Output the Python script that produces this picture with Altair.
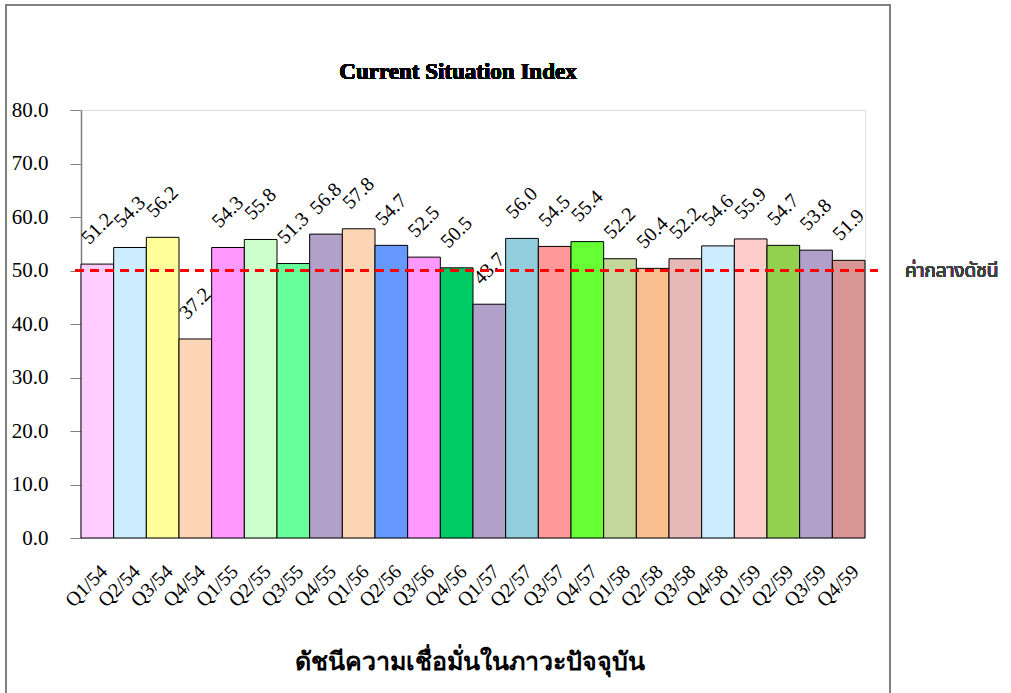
import altair as alt
import pandas as pd

quarters = ["Q1/54", "Q2/54", "Q3/54", "Q4/54", "Q1/55", "Q2/55", "Q3/55", "Q4/55",
            "Q1/56", "Q2/56", "Q3/56", "Q4/56", "Q1/57", "Q2/57", "Q3/57", "Q4/57",
            "Q1/58", "Q2/58", "Q3/58", "Q4/58", "Q1/59", "Q2/59", "Q3/59", "Q4/59"]
values = [51.2, 54.3, 56.2, 37.2, 54.3, 55.8, 51.3, 56.8,
          57.8, 54.7, 52.5, 50.5, 43.7, 56.0, 54.5, 55.4,
          52.2, 50.4, 52.2, 54.6, 55.9, 54.7, 53.8, 51.9]
colors = ["#FFCCFF", "#CCECFF", "#FFFF99", "#FCD5B5", "#FF99FF", "#CCFFCC", "#66FF99", "#B1A0C7",
          "#FCD5B5", "#6699FF", "#FF99FF", "#00CC66", "#B1A0C7", "#92CDDC", "#FF9999", "#66FF33",
          "#C4D79B", "#FABF8F", "#E6B8B7", "#CCECFF", "#FFCCCC", "#92D050", "#B1A0C7", "#DA9694"]
mid_value = 50
mid_label = "ค่ากลางดัชนี"
title_text = "Current Situation Index"
x_title = "ดัชนีความเชื่อมั่นในภาวะปัจจุบัน"

df = pd.DataFrame({"q": quarters, "v": values})

W, H = 784, 428
SERIF = "Liberation Serif"
THAI_SANS = "Noto Sans Thai, Loma, Garuda, Tlwg Typo, Noto Sans, sans-serif"

x_enc = alt.X("q:N", sort=None,
              scale=alt.Scale(paddingInner=0, paddingOuter=0),
              axis=alt.Axis(title=x_title, labelAngle=315, labelFont=SERIF, labelFontSize=20,
                            labelColor="black", labelPadding=23, domain=False, ticks=False,
                            titleFont=SERIF, titleFontSize=25, titleFontWeight="bold",
                            titleColor="black", titleY=111, titleBaseline="top", titleX=388))
y_enc = alt.Y("v:Q", scale=alt.Scale(domain=[0, 80], nice=False),
              axis=alt.Axis(title=None, values=list(range(0, 81, 10)), format=".1f",
                            labelFont=SERIF, labelFontSize=21, labelColor="black",
                            labelPadding=22, tickSize=11, tickColor="#808080",
                            domainColor="#808080", domainWidth=1.5, grid=False))

bars = alt.Chart(df).mark_bar(stroke="black", strokeWidth=1).encode(
    x=x_enc, y=y_enc,
    color=alt.Color("q:N", scale=alt.Scale(domain=quarters, range=colors), legend=None),
)

labels = alt.Chart(df).mark_text(angle=315, align="center", baseline="middle", dx=25, dy=-25,
                                  font=SERIF, fontSize=20, color="black").encode(
    x=alt.X("q:N", sort=None), y="v:Q", text=alt.Text("v:Q", format=".1f"))

rule = alt.Chart(df).mark_rule(color="#FF0000", strokeWidth=2, strokeDash=[9, 6]).encode(
    y=alt.datum(mid_value), x=alt.value(-6), x2=alt.value(W + 13))

note = alt.Chart(df).mark_text(align="left", baseline="middle", font=THAI_SANS, fontSize=19,
                               fontWeight="normal", color="#404040").encode(
    y=alt.datum(mid_value), x=alt.value(W + 40), text=alt.value(mid_label))

title = alt.Chart(df).mark_text(align="center", baseline="alphabetic", font=SERIF, fontSize=23,
                                fontWeight="bold", color="black").encode(
    x=alt.value(W / 2 - 15), y=alt.value(-31), text=alt.value(title_text))

frame = alt.Chart(df).mark_rect(fill=None, stroke="#808080", strokeWidth=2).encode(
    x=alt.value(-75), x2=alt.value(809), y=alt.value(-105), y2=alt.value(600))

chart = alt.layer(frame, bars, labels, rule, note, title).properties(
    width=W, height=H,
    autosize=alt.AutoSizeParams(type="none"),
    padding={"left": 81, "top": 110, "right": 146, "bottom": 155},
).configure_view(stroke=None).configure(background="white")

chart.save("out.html", embed_options={"renderer": "svg", "actions": False})
